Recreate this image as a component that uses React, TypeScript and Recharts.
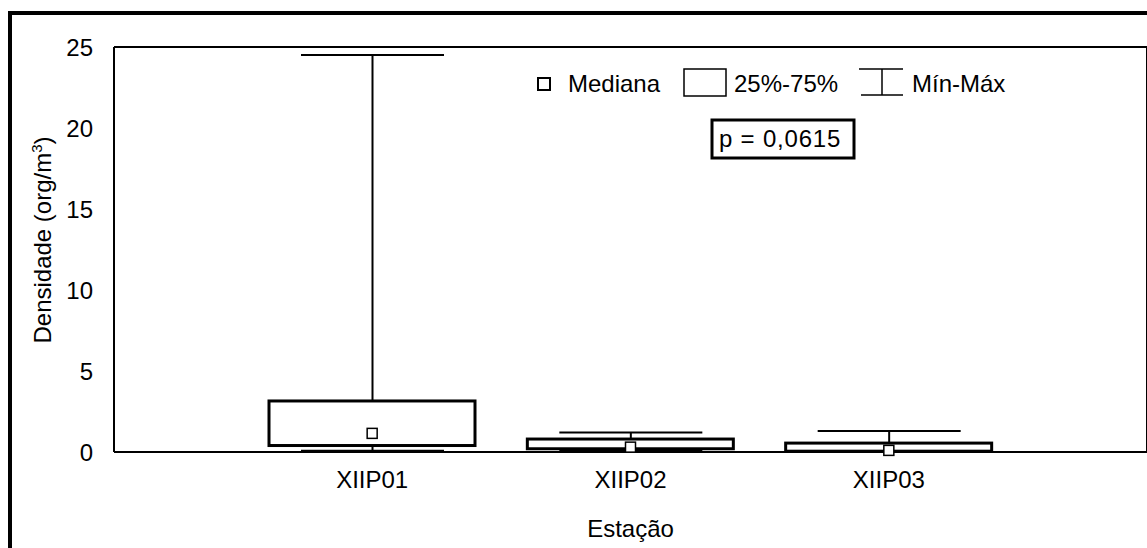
import { ComposedChart, Bar, Scatter, XAxis, YAxis } from "recharts";

// Boxplot values (org/m3)
const stations = ["XIIP01", "XIIP02", "XIIP03"];
const minValues = [0.05, 0.1, 0.05];
const q1Values = [0.4, 0.2, 0.05];
const medianValues = [1.15, 0.3, 0.1];
const q3Values = [3.15, 0.8, 0.55];
const maxValues = [24.5, 1.2, 1.3];
const yTicks = [0, 5, 10, 15, 20, 25];

const data = stations.map((station, i) => ({
  station,
  whisker: [minValues[i], maxValues[i]],
  box: [q1Values[i], q3Values[i]],
  median: medianValues[i],
}));

const FONT = "'Liberation Sans', Arial, sans-serif";
const PAD = { left: 129, right: 129 };

const WhiskerShape = (props: any) => {
  const { x, y, width, height } = props;
  const top = Math.min(y, y + height);
  const bottom = Math.max(y, y + height);
  const cx = x + width / 2;
  return (
    <g stroke="#000" strokeWidth={2}>
      <line x1={x} x2={x + width} y1={top} y2={top} />
      <line x1={cx} x2={cx} y1={top} y2={bottom} />
      <line x1={x} x2={x + width} y1={bottom} y2={bottom} strokeWidth={3} />
    </g>
  );
};

const BoxShape = (props: any) => {
  const { x, y, width, height } = props;
  const top = Math.min(y, y + height);
  return (
    <rect
      x={x}
      y={top}
      width={width}
      height={Math.abs(height)}
      fill="#fff"
      stroke="#000"
      strokeWidth={3}
    />
  );
};

const MedianShape = (props: any) => {
  const { cx, cy } = props;
  return (
    <rect x={cx - 5} y={cy - 5} width={10} height={10} fill="#fff" stroke="#000" strokeWidth={1.5} />
  );
};

const YLabel = () => {
  const cx = 51;
  const cy = 240;
  return (
    <text
      x={cx}
      y={cy}
      transform={`rotate(-90, ${cx}, ${cy})`}
      textAnchor="middle"
      fontFamily={FONT}
      fontSize={24}
      fill="#000"
    >
      Densidade (org/m
      <tspan fontSize={15} dy={-9}>3</tspan>
      <tspan dy={9}>)</tspan>
    </text>
  );
};

const XLabel = (props: any) => {
  const vb = props.viewBox || {};
  return (
    <text
      x={vb.x + vb.width / 2}
      y={vb.y + 85}
      textAnchor="middle"
      fontFamily={FONT}
      fontSize={24}
      fill="#000"
    >
      Estação
    </text>
  );
};

export default function App() {
  const txt = { fontFamily: FONT, fontSize: 24, fill: "#000" };
  const axisStroke = { stroke: "#000", strokeWidth: 2 };
  return (
    <div
      style={{
        position: "absolute",
        left: 0,
        top: 0,
        width: 1147,
        height: 548,
        overflow: "hidden",
        background: "#fff",
      }}
    >
      {/* outer frame, cut off at right and bottom */}
      <div
        style={{
          position: "absolute",
          left: 8,
          top: 11,
          width: 1300,
          height: 700,
          border: "4px solid #000",
        }}
      />
      <div style={{ position: "absolute", left: 0, top: 0 }}>
        <ComposedChart
          width={1147}
          height={548}
          data={data}
          margin={{ top: 46, right: 0, bottom: 0, left: 0 }}
        >
          <XAxis
            xAxisId="main"
            dataKey="station"
            height={96}
            padding={PAD}
            tickLine={false}
            tickSize={0}
            tickMargin={19}
            axisLine={axisStroke}
            tick={{ fontFamily: FONT, fontSize: 24, fill: "#000" }}
            label={<XLabel />}
          />
          <XAxis
            xAxisId="top"
            orientation="top"
            dataKey="station"
            height={1}
            padding={PAD}
            tick={false}
            tickLine={false}
            axisLine={axisStroke}
          />
          <XAxis xAxisId="wh" dataKey="station" hide height={0} padding={PAD} />
          <XAxis xAxisId="bx" dataKey="station" hide height={0} padding={PAD} />
          <YAxis
            yAxisId="left"
            width={114}
            domain={[0, 25]}
            ticks={yTicks}
            interval={0}
            tickLine={false}
            tickMargin={15}
            axisLine={axisStroke}
            tick={{ fontFamily: FONT, fontSize: 24, fill: "#000" }}
            label={<YLabel />}
          />
          {/* inward tick marks on the left edge */}
          <YAxis
            yAxisId="leftTicks"
            mirror
            width={0}
            domain={[0, 25]}
            ticks={yTicks}
            interval={0}
            tickSize={5}
            tick={false}
            axisLine={false}
            tickLine={axisStroke}
          />
          <YAxis
            yAxisId="right"
            orientation="right"
            mirror
            width={2}
            domain={[0, 25]}
            ticks={yTicks}
            interval={0}
            tickSize={5}
            tick={false}
            axisLine={axisStroke}
            tickLine={axisStroke}
          />
          <Bar
            xAxisId="wh"
            yAxisId="left"
            dataKey="whisker"
            barSize={143}
            shape={<WhiskerShape />}
            isAnimationActive={false}
          />
          <Bar
            xAxisId="bx"
            yAxisId="left"
            dataKey="box"
            barSize={206}
            shape={<BoxShape />}
            isAnimationActive={false}
          />
          <Scatter
            xAxisId="main"
            yAxisId="left"
            dataKey="median"
            shape={<MedianShape />}
            isAnimationActive={false}
          />
        </ComposedChart>
      </div>
      {/* legend and test result */}
      <svg
        width={1147}
        height={548}
        style={{ position: "absolute", left: 0, top: 0, pointerEvents: "none" }}
      >
        <rect x={538} y={78} width={12} height={12} fill="#fff" stroke="#000" strokeWidth={2} />
        <text x={568} y={92} {...txt}>Mediana</text>
        <rect x={684} y={69} width={42} height={27} fill="#fff" stroke="#000" strokeWidth={1.5} />
        <text x={734} y={92} {...txt}>25%-75%</text>
        <g stroke="#000" strokeWidth={1.5}>
          <line x1={859} x2={903} y1={69} y2={69} />
          <line x1={882} x2={882} y1={69} y2={95} />
          <line x1={861} x2={903} y1={95} y2={95} />
        </g>
        <text x={912} y={92} {...txt}>Mín-Máx</text>
        <rect x={712} y={120} width={142} height={38} fill="#fff" stroke="#000" strokeWidth={3} />
        <text x={719} y={147} {...txt} letterSpacing={0.8}>p = 0,0615</text>
      </svg>
    </div>
  );
}
